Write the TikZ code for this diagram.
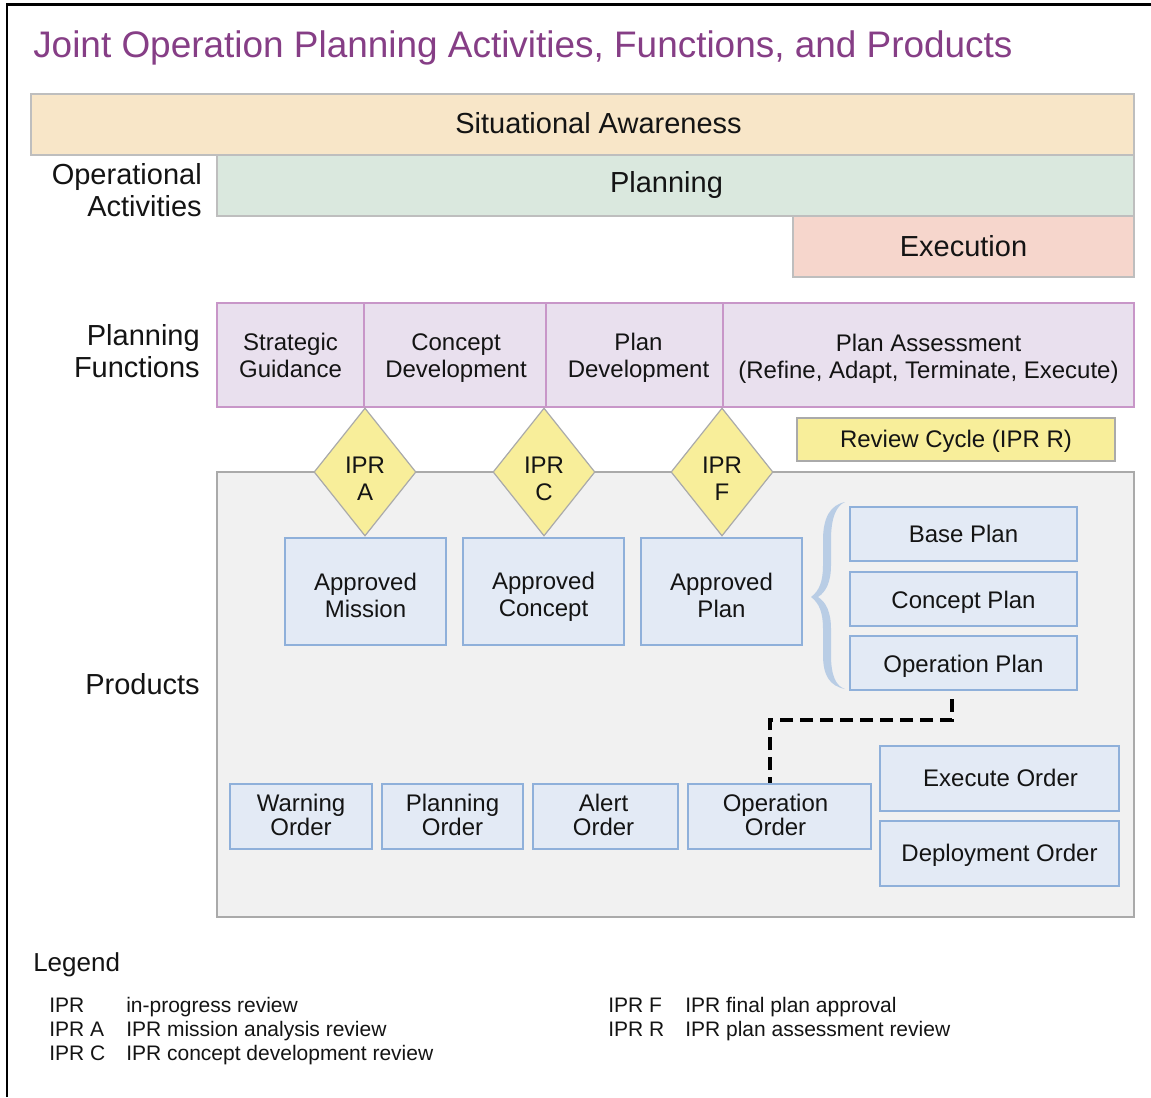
\documentclass[tikz,border=0pt]{standalone}
\usepackage{fontspec}
\setmainfont{Liberation Sans}
\usetikzlibrary{shapes.geometric}
\definecolor{titlec}{RGB}{134,62,134}
\definecolor{sitfill}{RGB}{248,230,200}
\definecolor{planfill}{RGB}{218,232,222}
\definecolor{execfill}{RGB}{246,214,204}
\definecolor{barbd}{RGB}{190,190,190}
\definecolor{funcfill}{RGB}{233,224,238}
\definecolor{funcbd}{RGB}{200,150,200}
\definecolor{yelfill}{RGB}{248,238,154}
\definecolor{yelbd}{RGB}{170,170,170}
\definecolor{bgfill}{RGB}{241,241,241}
\definecolor{bgbd}{RGB}{170,170,170}
\definecolor{prodfill}{RGB}{227,234,245}
\definecolor{prodbd}{RGB}{143,176,218}
\definecolor{bracec}{RGB}{185,205,229}
\definecolor{txt}{RGB}{20,20,20}
% box node (empty) + text node shifted by (#8,#9) px from the box centre
\newcommand\mkbox[9]{%
  \node[#6, minimum width={(#4-#2)*0.75pt}, minimum height={(#5-#3)*0.75pt}] (#1) at ({(#2+#4)/2},{(#3+#5)/2}) {};
  \node[#6 t] (#1t) at ([xshift={(#8)*0.75pt}, yshift={(#9)*(-0.75pt)}]#1.center) {#7};}
\begin{document}
\begin{tikzpicture}[x=0.75pt,y=-0.75pt,
  every node/.style={text=txt},
  bar/.style={draw=barbd, line width=0.9pt, inner sep=0pt},
  sit/.style={bar, fill=sitfill},
  planbar/.style={bar, fill=planfill},
  execbar/.style={bar, fill=execfill},
  sit t/.style={bar t}, planbar t/.style={bar t}, execbar t/.style={bar t},
  bar t/.style={inner sep=0pt, font=\fontsize{21.75}{24}\selectfont},
  func/.style={draw=funcbd, fill=funcfill, line width=0.9pt, inner sep=0pt},
  func t/.style={align=center, inner sep=0pt, font=\fontsize{18}{20.25}\selectfont},
  prod/.style={draw=prodbd, fill=prodfill, line width=0.9pt, inner sep=0pt},
  prod t/.style={align=center, inner sep=0pt, font=\fontsize{18}{20.25}\selectfont},
  order/.style={prod},
  order t/.style={align=center, inner sep=0pt, font=\fontsize{18}{18}\selectfont},
  review/.style={draw=yelbd, fill=yelfill, line width=0.9pt, inner sep=0pt},
  review t/.style={inner sep=0pt, font=\fontsize{18}{20}\selectfont},
  bigbox/.style={draw=bgbd, fill=bgfill, line width=1.4pt, inner sep=0pt},
  bigbox t/.style={inner sep=0pt},
  ipr/.style={diamond, draw=yelbd, fill=yelfill, line width=0.9pt, inner sep=0pt, minimum width=76.5pt, minimum height=96pt},
  iprtext/.style={align=center, inner sep=0pt, font=\fontsize{18}{20.25}\selectfont},
  sidelabel/.style={anchor=east, align=right, inner sep=0pt, font=\fontsize{21.75}{24.5}\selectfont},
  legtitle/.style={anchor=base west, inner sep=0pt, font=\fontsize{19.5}{22}\selectfont},
  legitem/.style={anchor=base west, inner sep=0pt, font=\fontsize{15.75}{18}\selectfont},
  dashline/.style={draw=black, line width=2.4pt, dash pattern=on 10pt off 5pt},
  frame/.style={draw=black, line width=1.9pt}]
\useasboundingbox (0,0) rectangle (1151,1097);
\fill[white] (0,0) rectangle (1151,1097);
\draw[frame] (7,1097) -- (7,4.5) -- (1151,4.5);

% title
\node[anchor=base west, inner sep=0pt, text=titlec, font=\fontsize{27.7}{30}\selectfont] (title) at (33,57) {Joint Operation Planning Activities, Functions, and Products};

% operational activities
\mkbox{sa}{31}{94}{1134}{155}{sit}{Situational Awareness}{16}{-1}
\mkbox{plan}{217}{155}{1134}{216}{planbar}{Planning}{-9}{-1}
\mkbox{exec}{793}{216}{1134}{277}{execbar}{Execution}{0}{0}
\node[sidelabel] (opact) at (202,190) {Operational\\Activities};

% planning functions
\node[sidelabel] (planfun) at (200,351) {Planning\\Functions};
\mkbox{sg}{217}{303}{364}{407}{func}{Strategic\\Guidance}{0}{0}
\mkbox{cd}{364}{303}{546}{407}{func}{Concept\\Development}{1}{3}
\mkbox{pd}{546}{303}{723}{407}{func}{Plan\\Development}{4}{3}
\mkbox{pa}{723}{303}{1134}{407}{func}{Plan Assessment\\(Refine, Adapt, Terminate, Execute)}{0}{4}

\mkbox{rc}{797}{418}{1115}{461}{review}{Review Cycle (IPR R)}{0}{2}

% products area
\mkbox{prodarea}{217}{472}{1134}{917}{bigbox}{}{0}{0}
\node[sidelabel] (prodlabel) at (200,684) {Products};

% diamonds
\node[ipr] (dA) at (365,472) {};
\node[ipr] (dC) at (544,472) {};
\node[ipr] (dF) at (722,472) {};
\node[iprtext] (tA) at (365,479) {IPR\\A};
\node[iprtext] (tC) at (544,479) {IPR\\C};
\node[iprtext] (tF) at (722,479) {IPR\\F};

% approved boxes
\mkbox{am}{285}{538}{446}{645}{prod}{Approved\\Mission}{0}{4}
\mkbox{ac}{463}{538}{624}{645}{prod}{Approved\\Concept}{0}{5}
\mkbox{ap}{641}{538}{802}{645}{prod}{Approved\\Plan}{0}{4}

% brace
\fill[bracec] (845,502) .. controls (830,505) and (823,518) .. (823,540) -- (823,565)
  .. controls (823,582) and (819,591) .. (811,597)
  .. controls (819,603) and (823,612) .. (823,629) -- (823,655)
  .. controls (823,676) and (830,686) .. (845,689)
  .. controls (836,686) and (831,676) .. (831,655) -- (831,629)
  .. controls (831,612) and (826,602) .. (818,597)
  .. controls (826,592) and (831,582) .. (831,565) -- (831,540)
  .. controls (831,518) and (836,506) .. (845,502) -- cycle;

% plans
\mkbox{base}{850}{507}{1077}{561}{prod}{Base Plan}{0}{0}
\mkbox{cplan}{850}{572}{1077}{626}{prod}{Concept Plan}{0}{3}
\mkbox{opplan}{850}{636}{1077}{690}{prod}{Operation Plan}{0}{3}

% orders
\mkbox{wo}{230}{784}{372}{849}{order}{Warning\\Order}{0}{-2}
\mkbox{po}{382}{784}{523}{849}{order}{Planning\\Order}{0}{-2}
\mkbox{ao}{533}{784}{678}{849}{order}{Alert\\Order}{-2}{-2}
\mkbox{oo}{688}{784}{871}{849}{order}{Operation\\Order}{-4}{-2}
\mkbox{eo}{880}{746}{1119}{811}{prod}{Execute Order}{1}{-1}
\mkbox{do}{880}{821}{1119}{886}{prod}{Deployment Order}{0}{2}

% dashed connector
\coordinate (dstart) at (952,699);
\coordinate (dturn) at (770,720);
\draw[dashline] (dstart) |- (dturn) -- (dturn |- oo.north);

% legend
\node[legtitle] (legend) at (33,971) {Legend};
\node[legitem] (l1a) at (49,1012) {IPR};
\node[legitem] (l1b) at (126,1012) {in-progress review};
\node[legitem] (l2a) at (49,1036) {IPR A};
\node[legitem] (l2b) at (126,1036) {IPR mission analysis review};
\node[legitem] (l3a) at (49,1060) {IPR C};
\node[legitem] (l3b) at (126,1060) {IPR concept development review};
\node[legitem] (l4a) at (608,1012) {IPR F};
\node[legitem] (l4b) at (685,1012) {IPR final plan approval};
\node[legitem] (l5a) at (608,1036) {IPR R};
\node[legitem] (l5b) at (685,1036) {IPR plan assessment review};
\end{tikzpicture}
\end{document}
